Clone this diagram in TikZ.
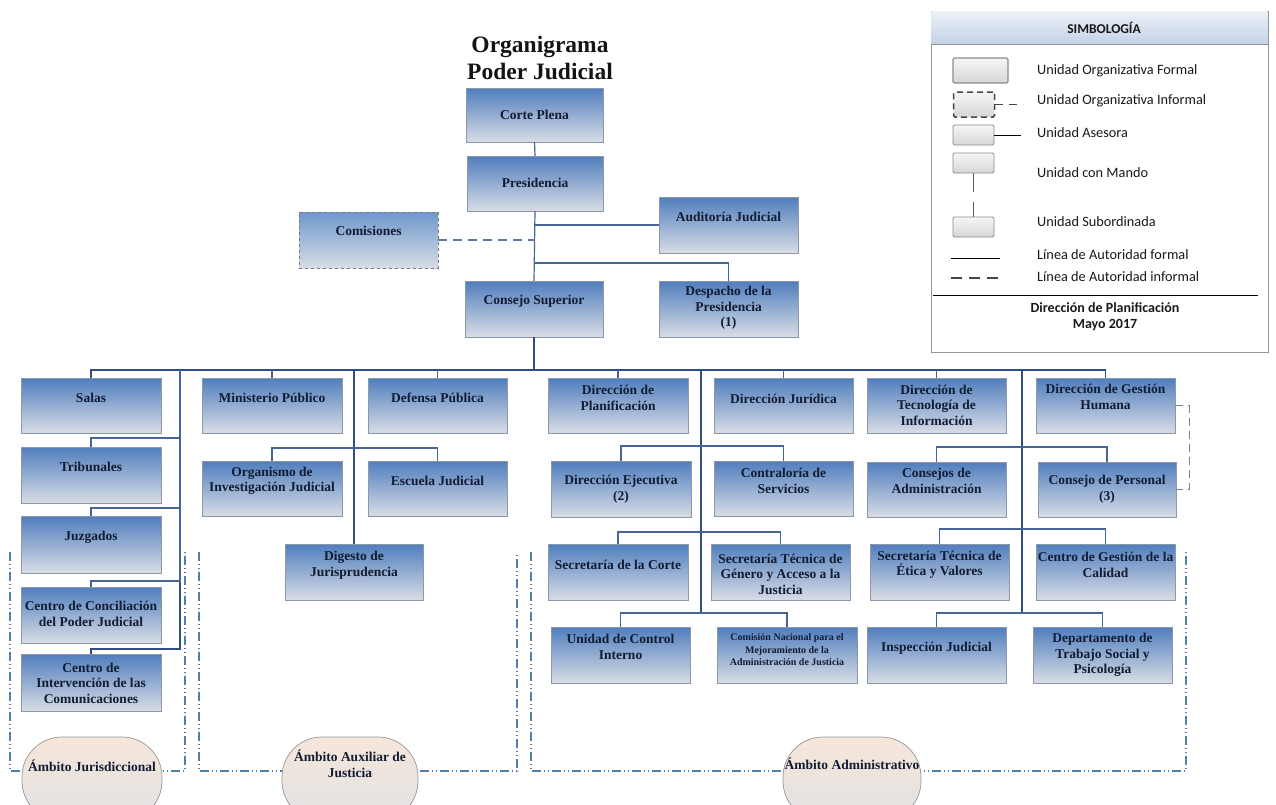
\documentclass[tikz,border=0pt]{standalone}
\usepackage{fontspec}
\setmainfont{Liberation Serif}
\newfontfamily\legfont{Carlito}
\usetikzlibrary{shadows,calc}
\definecolor{boxtop}{RGB}{80,126,190}
\definecolor{boxbot}{RGB}{216,221,229}
\definecolor{boxline}{RGB}{140,152,170}
\definecolor{comtop}{RGB}{110,152,205}
\definecolor{conn}{RGB}{70,102,152}
\definecolor{trunk}{RGB}{48,78,132}
\definecolor{txt}{RGB}{18,28,50}
\definecolor{ambline}{RGB}{82,126,172}
\definecolor{ambtop}{RGB}{246,230,218}
\definecolor{ambbot}{RGB}{226,226,228}
\definecolor{legtop}{RGB}{236,241,248}
\definecolor{legbot}{RGB}{196,210,232}
\definecolor{lboxtop}{RGB}{246,246,246}
\definecolor{lboxbot}{RGB}{214,214,214}
\tikzset{
  ubox/.style={rectangle, inner sep=0pt, outer sep=0pt, draw=boxline, line width=0.7pt,
    top color=boxtop, bottom color=boxbot,
    drop shadow={opacity=0.3, shadow xshift=1.3pt, shadow yshift=-1.3pt}},
  combox/.style={rectangle, inner sep=0pt, outer sep=0pt, draw={rgb,255:red,120;green,120;blue,120}, line width=0.8pt, dashed,
    top color=comtop, bottom color=boxbot},
  btext/.style={align=center, text=txt, font=\bfseries\fontsize{13.5}{15.5}\selectfont, inner sep=0pt},
  cline/.style={draw=conn, line width=1.2pt},
  tline/.style={draw=trunk, line width=1.6pt},
  ambito/.style={draw=ambline, line width=1.6pt, dash pattern=on 9pt off 3pt on 1pt off 3pt on 1pt off 3pt},
  amb/.style={rectangle, rounded corners=40pt, draw={rgb,255:red,150;green,150;blue,150}, line width=0.7pt,
    top color=ambtop, bottom color=ambbot, inner sep=0pt},
  lbox/.style={rectangle, rounded corners=1.5pt, inner sep=0pt, draw={rgb,255:red,140;green,140;blue,140}, line width=0.8pt,
    top color=lboxtop, bottom color=lboxbot},
  ltext/.style={anchor=west, inner sep=0pt, font=\legfont\fontsize{14.3}{16}\selectfont, text={rgb,255:red,25;green,25;blue,25}},
  lbold/.style={inner sep=0pt, font=\legfont\bfseries\fontsize{14}{17}\selectfont, text={rgb,255:red,25;green,25;blue,25}},
}
\newcommand{\mkbox}[8][ubox]{%
  \node[#1, minimum width={(#5-#3)*1pt}, minimum height={(#6-#4)*1pt}] (#2) at ({(#3+#5)/2},{(#4+#6)/2}) {};
  \node[btext] at ({(#3+#5)/2},#7) {#8};}
\begin{document}
\begin{tikzpicture}[x=1pt,y=-1pt]
\useasboundingbox (0,0) rectangle (1276,804);
\clip (0,0) rectangle (1276,804);
\fill[white] (0,0) rectangle (1276,804);

% title
\node[align=center, inner sep=0pt, font=\bfseries\fontsize{23.5}{27}\selectfont, text={rgb,255:red,20;green,20;blue,20}] (title) at (540,58) {Organigrama\\Poder Judicial};

% ambitos (dash-dot brackets)
\coordinate (a1t) at (10,552); \coordinate (a1b) at (185,552);
\draw[ambito] (a1t) -- (10,771) -- (185,771) -- (a1b);
\coordinate (a2t) at (199,552); \coordinate (a2b) at (517,552);
\draw[ambito] (a2t) -- (199,771) -- (517,771) -- (a2b);
\coordinate (a3t) at (531,552); \coordinate (a3b) at (1186,552);
\draw[ambito] (a3t) -- (531,771) -- (1186,771) -- (a3b);

% boxes
\mkbox{corte}{466}{88}{603}{142}{115}{Corte Plena}
\mkbox{pres}{467}{156}{603}{211}{183}{Presidencia}
\mkbox[combox]{com}{299}{212}{438}{268}{231}{Comisiones}
\mkbox{aud}{659}{197}{798}{253}{217}{Auditoría Judicial}
\mkbox{cs}{465}{281}{603}{337}{301}{Consejo Superior}
\mkbox{desp}{659}{281}{798}{337}{308}{Despacho de la\\Presidencia\\(1)}
\mkbox{salas}{21}{378}{161}{433}{398}{Salas}
\mkbox{trib}{21}{447}{161}{503}{467}{Tribunales}
\mkbox{juz}{21}{516}{161}{573}{537}{Juzgados}
\mkbox{conc}{21}{587}{161}{643}{614}{Centro de Conciliación\\del Poder Judicial}
\mkbox{interv}{21}{654}{161}{711}{683}{Centro de\\Intervención de las\\Comunicaciones}
\mkbox{mp}{202}{378}{342}{433}{398}{Ministerio Público}
\mkbox{dp}{368}{378}{507}{433}{398}{Defensa Pública}
\mkbox{oij}{202}{461}{342}{516}{481}{Organismo de\\Investigación Judicial}
\mkbox{ej}{368}{461}{507}{516}{481}{Escuela Judicial}
\mkbox{dig}{285}{544}{423}{600}{565}{Digesto de\\Jurisprudencia}
\mkbox{plan}{548}{378}{688}{433}{398}{Dirección de\\Planificación}
\mkbox{jur}{714}{378}{853}{433}{399}{Dirección Jurídica}
\mkbox{ti}{867}{378}{1006}{433}{405}{Dirección de\\Tecnología de\\Información}
\mkbox{gh}{1036}{378}{1175}{433}{397}{Dirección de Gestión\\Humana}
\mkbox{dej}{551}{461}{691}{517}{489}{Dirección Ejecutiva\\(2)}
\mkbox{contr}{714}{461}{853}{516}{481}{Contraloría de\\Servicios}
\mkbox{cadm}{867}{462}{1006}{517}{481}{Consejos de\\Administración}
\mkbox{cper}{1038}{462}{1176}{517}{489}{Consejo de Personal\\(3)}
\mkbox{scorte}{548}{544}{688}{600}{565}{Secretaría de la Corte}
\mkbox{sgen}{711}{544}{850}{600}{574}{Secretaría Técnica de\\Género y Acceso a la\\Justicia}
\mkbox{setica}{870}{544}{1009}{600}{565}{Secretaría Técnica de\\Ética y Valores}
\mkbox{cal}{1036}{544}{1175}{600}{565}{Centro de Gestión de la\\Calidad}
\mkbox{uci}{551}{627}{690}{683}{647}{Unidad de Control\\Interno}
\mkbox{cn}{717}{627}{857}{683}{650}{}
\node[btext, font=\bfseries\fontsize{10}{12.5}\selectfont] (cnt) at (787,650) {Comisión Nacional para el\\Mejoramiento de la\\Administración de Justicia};
\mkbox{insp}{867}{627}{1006}{683}{648}{Inspección Judicial}
\mkbox{dts}{1033}{627}{1172}{683}{655}{Departamento de\\Trabajo Social y\\Psicología}

% upper connectors
\coordinate (busy) at (0,370);
\coordinate (j1) at (535,263);
\draw[cline] (corte.south) -- (pres.north);
\draw[cline] (pres.south) -- (cs.north);
\draw[cline] (aud.west) -- (aud.west -| pres.south);
\draw[cline, dash pattern=on 9pt off 6pt, draw={rgb,255:red,95;green,120;blue,160}] (com.east) -- (com.east -| pres.south);
\draw[cline] (desp.north) |- (j1);
\draw[tline] (cs.south) -- (cs.south |- busy);

% main bus
\draw[tline] (salas.north) -- (salas.north |- busy) -- (gh.north |- busy) -- (gh.north);

% column 1
\coordinate (c1) at (180,370);
\draw[tline] (interv.north) -- ++(0,-5) -| (c1);
\draw[cline] (trib.north) -- ++(0,-9) -| (c1);
\draw[cline] (juz.north) -- ++(0,-8) -| (c1);
\draw[cline] (conc.north) -- ++(0,-6) -| (c1);

% column 2
\draw[cline] (mp.north) -- (mp.north |- busy);
\draw[cline] (dp.north) -- (dp.north |- busy);
\draw[tline] (dig.north) -- (dig.north |- busy);
\draw[cline] (oij.north) -- ++(0,-13) -| (ej.north);

% column 3
\coordinate (t3) at (701,370); \coordinate (t3b) at (701,613);
\draw[tline] (t3) -- (t3b);
\draw[cline] (plan.north) -- (plan.north |- busy);
\draw[cline] (jur.north) -- (jur.north |- busy);
\draw[cline] (dej.north) -- ++(0,-15) -| (contr.north);
\draw[cline] (scorte.north) -- ++(0,-12) -| (sgen.north);
\draw[cline] (uci.north) -- ++(0,-14) -| (cn.north);

% column 4
\coordinate (t4) at (1022,370); \coordinate (t4b) at (1022,613);
\draw[tline] (t4) -- (t4b);
\draw[cline] (ti.north) -- (ti.north |- busy);
\draw[cline] (cadm.north) -- ++(0,-15) -| (cper.north);
\draw[cline] (setica.north) -- ++(0,-15) -| (cal.north);
\draw[cline] (insp.north) -- ++(0,-14) -| (dts.north);
\draw[draw={rgb,255:red,120;green,130;blue,150}, line width=1pt, dash pattern=on 8pt off 5pt] (gh.east) -- ++(14,0) |- (cper.east);

% ambito ovals
\node[amb, minimum width=140pt, minimum height=84pt] (aj) at (92,779) {};
\node[btext] at (92,766) {Ámbito Jurisdiccional};
\node[amb, minimum width=136pt, minimum height=84pt] (aa) at (350,779) {};
\node[btext] at (350,764) {Ámbito Auxiliar de\\Justicia};
\node[amb, minimum width=138pt, minimum height=84pt] (ad) at (852,779) {};
\node[btext] at (852,764) {Ámbito Administrativo};

% legend
\draw[draw={rgb,255:red,150;green,150;blue,150}, line width=0.8pt, fill=white] (931,11) rectangle (1268,352);
\shade[top color=legtop, bottom color=legbot] (931.4,11.4) rectangle (1267.6,44);
\draw[draw={rgb,255:red,150;green,150;blue,150}, line width=0.6pt] (931,44) -- (1268,44);
\node[lbold, font=\legfont\bfseries\fontsize{13.5}{16}\selectfont] (legt) at (1104,28) {SIMBOLOGÍA};
\node[lbox, line width=1.2pt, minimum width=55pt, minimum height=25pt] (lf) at (980.5,70.5) {};
\node[lbox, draw={rgb,255:red,70;green,70;blue,70}, line width=1.5pt, dash pattern=on 6pt off 4pt, minimum width=41pt, minimum height=25pt] (li) at (974,104.5) {};
\draw[draw={rgb,255:red,70;green,70;blue,70}, line width=1.8pt, dash pattern=on 8pt off 6pt] (li.east) -- ++(28,0);
\node[lbox, minimum width=41pt, minimum height=20pt] (la) at (973.5,135) {};
\draw[line width=0.7pt] (la.east) -- ++(27,0);
\node[lbox, minimum width=41pt, minimum height=20pt] (lm) at (973.5,163) {};
\draw[draw={rgb,255:red,90;green,90;blue,90}, line width=1.2pt] (lm.south) -- ++(0,19);
\node[lbox, minimum width=41pt, minimum height=20pt] (ls) at (973.5,227) {};
\draw[draw={rgb,255:red,90;green,90;blue,90}, line width=1.2pt] (ls.north) -- ++(0,-15);
\coordinate (lfa) at (951,258);
\draw[line width=0.7pt] (lfa) -- ++(49,0);
\coordinate (lia) at (951,278);
\draw[draw={rgb,255:red,70;green,70;blue,70}, line width=1.8pt, dash pattern=on 11pt off 7pt] (lia) -- ++(49,0);
\coordinate (sepl) at (933,295); \coordinate (sepr) at (1258,295);
\draw[line width=0.7pt] (sepl) -- (sepr);
\node[ltext] at (1037,71) {Unidad Organizativa Formal};
\node[ltext] at (1037,101) {Unidad Organizativa Informal};
\node[ltext] at (1037,133) {Unidad Asesora};
\node[ltext] at (1037,173) {Unidad con Mando};
\node[ltext] at (1037,222) {Unidad Subordinada};
\node[ltext] at (1037,255) {Línea de Autoridad formal};
\node[ltext] at (1037,277) {Línea de Autoridad informal};
\node[lbold] (lf1) at (1105,308) {Dirección de Planificación};
\node[lbold] (lf2) at (1105,325) {Mayo 2017};
\end{tikzpicture}
\end{document}
